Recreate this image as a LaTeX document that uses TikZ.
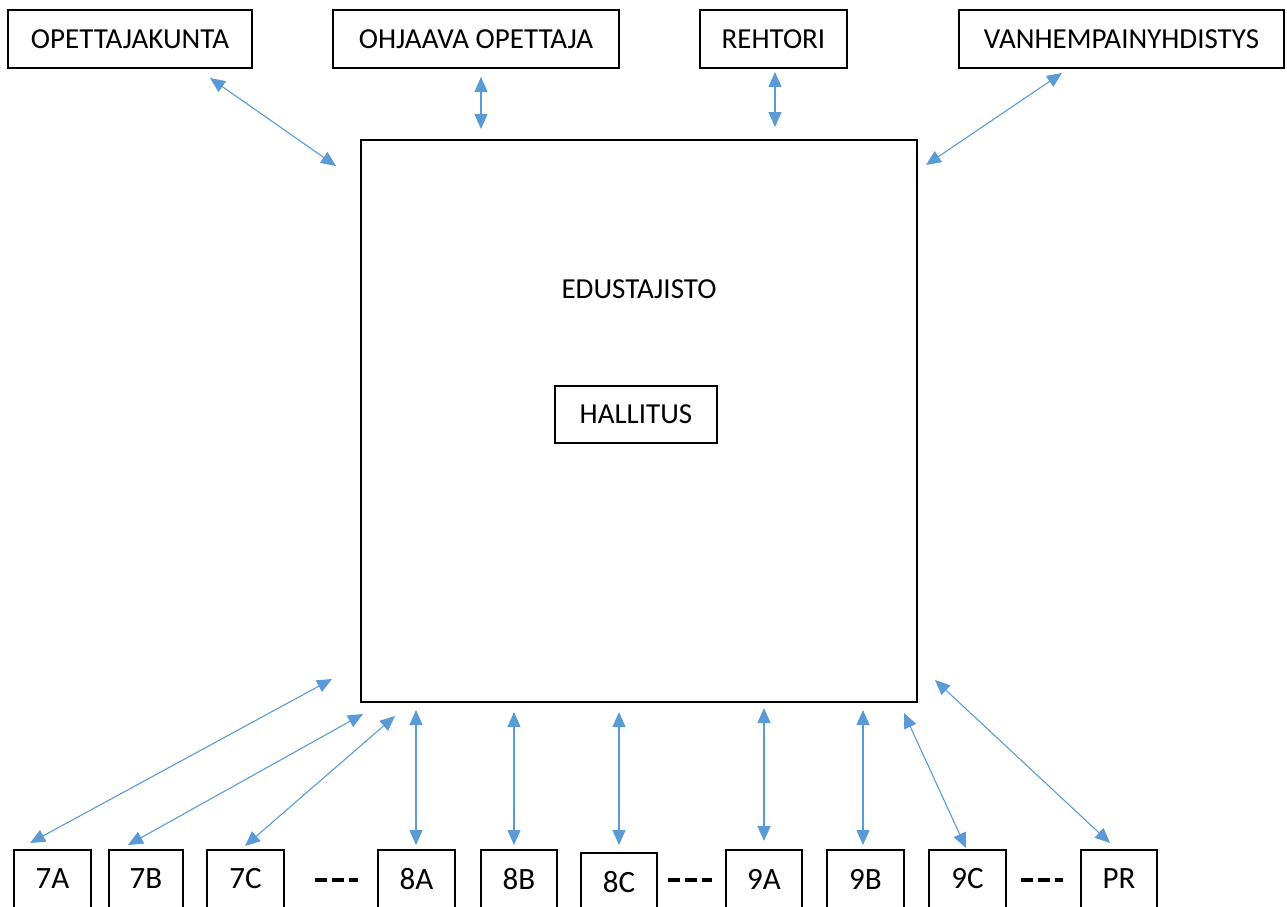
\documentclass[tikz,border=0pt]{standalone}
\usepackage{fontspec}
\setmainfont{Carlito}
\usetikzlibrary{arrows.meta}
\definecolor{arrblue}{HTML}{5B9BD5}
\begin{document}
\begin{tikzpicture}[x=1pt,y=-1pt,
  box/.style={draw=black,line width=1.1pt,inner sep=0pt,font=\fontsize{29}{34}\selectfont},
  lbl/.style={inner sep=0pt,font=\fontsize{29}{34}\selectfont},
  cls/.style={box,minimum width=77pt,minimum height=58pt,font=\fontsize{31}{36}\selectfont},
  arr/.style={draw=arrblue,line width=1.1pt,{Triangle[length=15pt,width=13pt]}-{Triangle[length=15pt,width=13pt]}},
  gap/.style={line width=4pt,dash pattern=on 12pt off 5pt}]
\useasboundingbox (0,0) rectangle (1287,906);
\clip (0,0) rectangle (1287,906);
% top boxes
\node[box,minimum width=244pt,minimum height=58pt] (opk) at (130,39) {OPETTAJAKUNTA};
\node[box,minimum width=286pt,minimum height=58pt] (ohj) at (476,39) {OHJAAVA OPETTAJA};
\node[box,minimum width=147pt,minimum height=58pt] (reh) at (773.5,39) {REHTORI};
\node[box,minimum width=325pt,minimum height=58pt] (van) at (1121.5,39) {VANHEMPAINYHDISTYS};
% central
\node[box,minimum width=556pt,minimum height=562pt] (edu) at (639,421) {};
\node[lbl] (edulbl) at (639,289) {EDUSTAJISTO};
\node[box,minimum width=162pt,minimum height=57pt] (hal) at (636,414.5) {HALLITUS};
% classes
\node[cls] (c7a) at (52.5,879) {7A};
\node[cls,minimum width=74pt] (c7b) at (146,879) {7B};
\node[cls] (c7c) at (245.5,879) {7C};
\node[cls] (c8a) at (416.5,879) {8A};
\node[cls,minimum width=76pt] (c8b) at (519,879) {8B};
\node[cls,minimum width=76pt] (c8c) at (619,882) {8C};
\node[cls,minimum width=76pt] (c9a) at (764,879) {9A};
\node[cls] (c9b) at (865.5,879) {9B};
\node[cls] (c9c) at (967.5,879) {9C};
\node[cls,minimum width=76pt] (cpr) at (1119,879) {PR};
% gaps
\coordinate (g1a) at (315,880); \coordinate (g1b) at (358,880);
\coordinate (g2a) at (668,880); \coordinate (g2b) at (712,880);
\coordinate (g3a) at (1021,880); \coordinate (g3b) at (1063,880);
\draw[gap] (g1a) -- (g1b);
\draw[gap] (g2a) -- (g2b);
\draw[gap] (g3a) -- (g3b);
% arrow endpoints
\coordinate (a1) at (210,78);   \coordinate (b1) at (336,166);
\coordinate (a2) at (481,77);   \coordinate (b2) at (481,129);
\coordinate (a3) at (775,72);   \coordinate (b3) at (775,127);
\coordinate (a4) at (1062,73);  \coordinate (b4) at (926,165);
\coordinate (a5) at (332,679);  \coordinate (b5) at (30,843);
\coordinate (a6) at (363,714);  \coordinate (b6) at (128,845);
\coordinate (a7) at (395,716);  \coordinate (b7) at (245,846);
\coordinate (a8) at (416,710);  \coordinate (b8) at (416,845);
\coordinate (a9) at (514,712);  \coordinate (b9) at (514,845);
\coordinate (a10) at (619,712); \coordinate (b10) at (619,845);
\coordinate (a11) at (764,708); \coordinate (b11) at (764,841);
\coordinate (a12) at (863,710); \coordinate (b12) at (863,845);
\coordinate (a13) at (904,713); \coordinate (b13) at (966,848);
\coordinate (a14) at (935,680); \coordinate (b14) at (1110,843);
\foreach \i in {1,...,14}{\draw[arr] (a\i) -- (b\i);}
\end{tikzpicture}
\end{document}
